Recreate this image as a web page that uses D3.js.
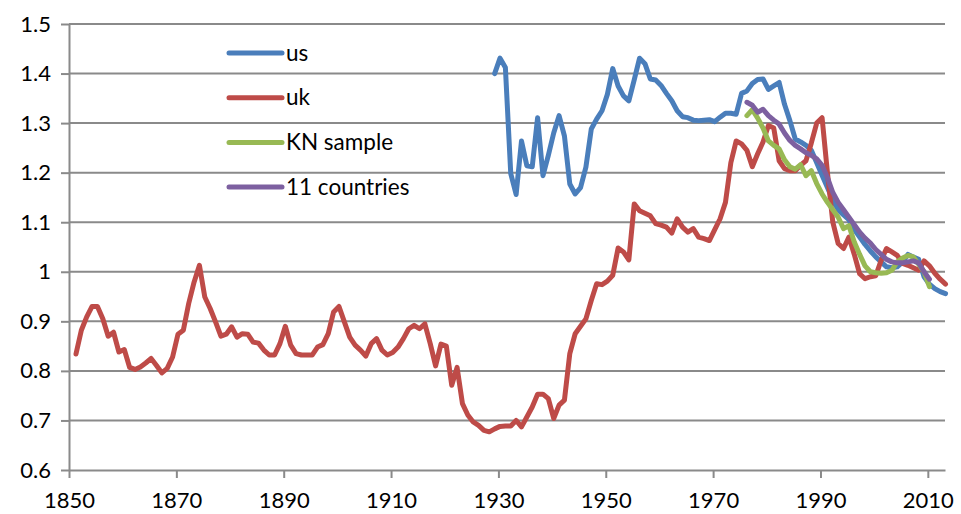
<!DOCTYPE html>
<html>
<head>
<meta charset="utf-8">
<script src="https://cdn.jsdelivr.net/npm/d3@7"></script>
<style>
	body { margin: 0; background: #fff; }
	svg { display: block; font-family: Lato, "Open Sans", sans-serif; }
	.grid line { stroke: #8a8a8a; stroke-width: 2; }
	.axis path, .axis line { stroke: #8a8a8a; stroke-width: 2; }
	.axis text { fill: #000; font-size: 22px; }
	.series { fill: none; stroke-width: 5; stroke-linejoin: round; stroke-linecap: round; }
	.legend text { font-size: 22.5px; fill: #000; }
</style>
</head>
<body>
<div id="chart"></div>
<script>
"use strict";

const width = 961, height = 514;

//  Data (annual values, first year given separately)
const ukStart = 1851;
const ukValues = [
	0.834, 0.882, 0.909, 0.93, 0.93, 0.905, 0.87, 0.878, 0.838,
	0.843, 0.807, 0.803, 0.808, 0.816, 0.825, 0.811, 0.796, 0.805, 0.828,
	0.874, 0.882, 0.936, 0.979, 1.013, 0.949, 0.926, 0.899, 0.87, 0.874,
	0.889, 0.868, 0.875, 0.874, 0.858, 0.856, 0.842, 0.832, 0.832, 0.855,
	0.89, 0.852, 0.835, 0.832, 0.832, 0.832, 0.848, 0.853, 0.875, 0.919,
	0.93, 0.899, 0.868, 0.852, 0.842, 0.83, 0.855, 0.865, 0.842, 0.832,
	0.837, 0.848, 0.865, 0.885, 0.892, 0.885, 0.895, 0.855, 0.81, 0.854,
	0.85, 0.771, 0.807, 0.734, 0.711, 0.697, 0.69, 0.68, 0.677, 0.683,
	0.688, 0.689, 0.689, 0.70, 0.687, 0.707, 0.727, 0.753, 0.753, 0.744,
	0.704, 0.731, 0.741, 0.835, 0.875, 0.89, 0.905, 0.942, 0.976, 0.974,
	0.981, 0.993, 1.048, 1.04, 1.024, 1.137, 1.123, 1.118, 1.113, 1.097,
	1.094, 1.09, 1.078, 1.107, 1.09, 1.08, 1.087, 1.07, 1.067, 1.063,
	1.085, 1.107, 1.14, 1.22, 1.264, 1.258, 1.245, 1.212, 1.238, 1.262,
	1.295, 1.29, 1.224, 1.208, 1.204, 1.204, 1.215, 1.224, 1.26, 1.30,
	1.311, 1.2, 1.10, 1.057, 1.047, 1.07, 1.035, 0.996, 0.986, 0.99,
	0.992, 1.023, 1.047, 1.04, 1.033, 1.017, 1.013, 1.008, 1.003, 1.022,
	1.012, 0.997, 0.985, 0.975
];

const usStart = 1929;
const usValues = [
	1.40, 1.431, 1.412, 1.198, 1.156, 1.264, 1.214, 1.212, 1.311, 1.194, 1.235,
	1.28, 1.315, 1.274, 1.177, 1.157, 1.17, 1.211, 1.288, 1.308, 1.325,
	1.358, 1.41, 1.375, 1.355, 1.345, 1.387, 1.431, 1.42, 1.389, 1.387,
	1.376, 1.36, 1.345, 1.325, 1.313, 1.311, 1.306, 1.305, 1.306, 1.307,
	1.303, 1.312, 1.32, 1.32, 1.318, 1.36, 1.365, 1.38, 1.388, 1.389,
	1.368, 1.375, 1.382, 1.338, 1.305, 1.268, 1.262, 1.255, 1.245, 1.22,
	1.195, 1.17, 1.145, 1.125, 1.115, 1.105, 1.085, 1.07, 1.055, 1.042,
	1.03, 1.02, 1.01, 1.008, 1.01, 1.02, 1.035, 1.03, 1.025, 0.99,
	0.975, 0.966, 0.96, 0.956
];

const knStart = 1976;
const knValues = [
	1.315, 1.327, 1.31, 1.29,
	1.264, 1.255, 1.248, 1.226, 1.212, 1.207, 1.216, 1.194, 1.204, 1.178,
	1.157, 1.14, 1.125, 1.11, 1.087, 1.093, 1.06, 1.035, 1.012, 1.0,
	0.998, 0.997, 0.998, 1.003, 1.02, 1.028, 1.033, 1.03, 1.015, 1.0,
	0.97
];

const elevenStart = 1976;
const elevenValues = [
	1.342, 1.336, 1.322, 1.328,
	1.315, 1.306, 1.298, 1.28, 1.265, 1.255, 1.248, 1.24, 1.235, 1.228,
	1.215, 1.19, 1.16, 1.14, 1.125, 1.11, 1.095, 1.08, 1.068, 1.058,
	1.045, 1.035, 1.025, 1.02, 1.018, 1.018, 1.02, 1.022, 1.018, 1.0,
	0.985
];

const xTicks = [1850, 1870, 1890, 1910, 1930, 1950, 1970, 1990, 2010];
const yTicks = [0.6, 0.7, 0.8, 0.9, 1.0, 1.1, 1.2, 1.3, 1.4, 1.5];

const seriesNames = ['us', 'uk', 'KN sample', '11 countries'];
const seriesColors = ['#4a7ebb', '#be4b48', '#98b954', '#7d60a0'];

function toPoints(start, values)
{
	return values.map((v, i) => ({ year: start + i, value: v }));
}

const series = [
	toPoints(usStart, usValues),
	toPoints(ukStart, ukValues),
	toPoints(knStart, knValues),
	toPoints(elevenStart, elevenValues)
];

//  Scales
const plotLeft = 69, plotRight = 945, plotTop = 24, plotBottom = 470;
const x = d3.scaleLinear().domain([1850, 2013.2]).range([plotLeft, plotRight]);
const y = d3.scaleLinear().domain([0.6, 1.5]).range([plotBottom, plotTop]);
// points sit inside their year slot
const pointOffset = 0.3;

const svg = d3.select('#chart').append('svg')
	.attr('width', width)
	.attr('height', height);

svg.append('g')
	.classed('grid', true)
	.selectAll('line')
	.data(yTicks.slice(1))
	.join('line')
		.attr('x1', plotLeft)
		.attr('x2', plotRight)
		.attr('y1', d => y(d))
		.attr('y2', d => y(d));

svg.append('g')
	.classed('axis', true)
	.attr('transform', `translate(${plotLeft},0)`)
	.call(d3.axisLeft(y).tickValues(yTicks).tickSize(8).tickPadding(10).tickSizeOuter(0)
		.tickFormat(d => d === 1 ? '1' : d3.format('.1f')(d)));

svg.append('g')
	.classed('axis', true)
	.attr('transform', `translate(0,${plotBottom})`)
	.call(d3.axisBottom(x).tickValues(xTicks).tickSize(8).tickPadding(14).tickSizeOuter(0)
		.tickFormat(d3.format('d')));

svg.selectAll('.axis text').attr('font-family', 'Lato, "Open Sans", sans-serif');

//  Lines
const line = d3.line()
	.x(d => x(d.year + pointOffset))
	.y(d => y(d.value));

svg.append('g')
	.selectAll('path')
	.data(series)
	.join('path')
		.classed('series', true)
		.attr('stroke', (d, i) => seriesColors[i])
		.attr('d', line);

//  Legend
const legend = svg.append('g')
	.classed('legend', true)
	.attr('transform', 'translate(229,53)');

const legendItem = legend.selectAll('g')
	.data(seriesNames)
	.join('g')
		.attr('transform', (d, i) => `translate(0,${i * 44.7})`);

legendItem.append('line')
	.attr('x1', 0)
	.attr('x2', 53)
	.attr('stroke', (d, i) => seriesColors[i])
	.attr('stroke-width', 5)
	.attr('stroke-linecap', 'round');

legendItem.append('text')
	.attr('x', 57)
	.attr('dy', '0.34em')
	.text(d => d);
</script>
</body>
</html>
